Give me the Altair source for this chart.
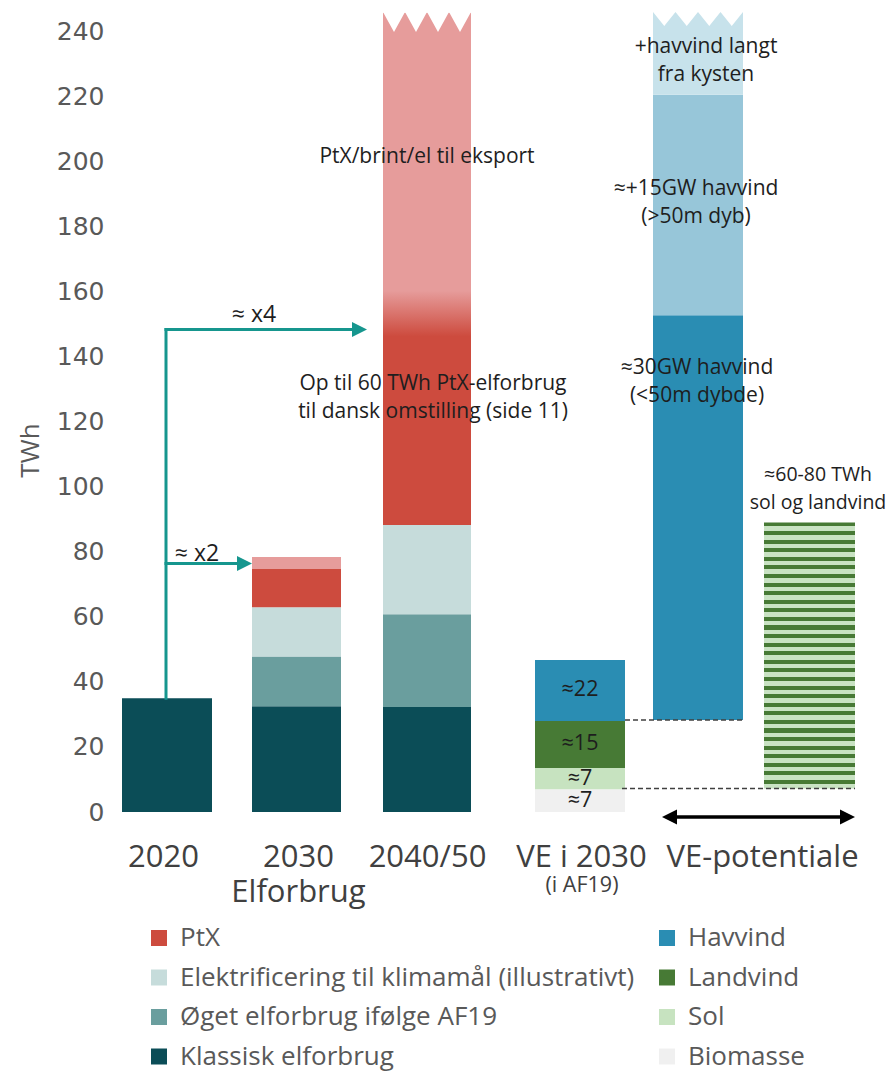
import altair as alt
import pandas as pd

# ---------------- data ----------------
use_columns = ["2020", "2030", "2040/50"]
klassisk = [35.0, 32.5, 32.3]
oget = [0.0, 15.3, 28.5]
elektrificering = [0.0, 15.1, 27.4]
ptx = [0.0, 11.8, 60.0]
ptx_eksport = [0.0, 3.7, 97.5]          # 2040/50 is cut at the top of the chart

ve2030_names = ["Biomasse", "Sol", "Landvind", "Havvind"]
ve2030_values = [7.0, 6.5, 14.5, 18.7]
ve2030_labels = ["≈7", "≈7", "≈15", "≈22"]

pot_havvind_start = 28.3
pot_havvind_names = ["Havvind", "Havvind dyb", "Havvind langt"]
pot_havvind_values = [124.4, 67.8, 25.5]
pot_havvind_labels = ["≈30GW havvind\n(<50m dybde)", "≈+15GW havvind\n(>50m dyb)",
                      "+havvind langt\nfra kysten"]

pot_solland_start = 7.2
pot_solland_value = 81.8
pot_solland_label = "≈60-80 TWh\nsol og landvind"

ptx_labels = ["Op til 60 TWh PtX-elforbrug\ntil dansk omstilling (side 11)",
              "PtX/brint/el til eksport"]

growth_labels = ["≈ x2", "≈ x4"]
growth_levels = [76.4, 148.3]

x_labels = [["2020"], ["2030", "Elforbrug"], ["2040/50"], ["VE i 2030"], ["VE-potentiale"]]
x_sublabel = "(i AF19)"
y_ticks = list(range(0, 241, 20))

K_NAME = "Klassisk elforbrug"
O_NAME = "Øget elforbrug ifølge AF19"
E_NAME = "Elektrificering til klimamål (illustrativt)"
# legend fills column by column
legend_order = ["PtX", E_NAME, O_NAME, K_NAME, "Havvind", "Landvind", "Sol", "Biomasse"]

colors = {
    "PtX": "#cd4b3e",
    "PtX eksport": "#e69c9b",
    E_NAME: "#c6dcdb",
    O_NAME: "#6a9e9e",
    K_NAME: "#0b4d57",
    "Havvind": "#2a8db3",
    "Havvind dyb": "#97c6d9",
    "Havvind langt": "#c7e2eb",
    "Landvind": "#477a35",
    "Sol": "#c7e3c0",
    "Biomasse": "#f0f0f0",
}
stripe_light = "#c9e3c3"
teal = "#16968e"
FONT = "Open Sans"

# ---------------- layout ----------------
W, H = 776, 800
Y_MAX = 245.9
PX = H / Y_MAX
span = {"2020": (14, 104), "2030": (144, 233), "2040/50": (275, 363),
        "VE i 2030": (427, 517), "pot_hav": (545, 635), "pot_sol": (656, 747)}
x_label_at = [55, 190, 319, 473, 654]
sublabel_at = (474, -22.8)
ptx_label_at = [(325, 131.5), (319, 201.3)]          # first-line positions
pot_havvind_label_at = [(589, 136.4), (588, 191.5), (598, 235.1)]
pot_solland_label_at = (710, 103.6)
growth_label_at = [(89, 79.4), (146, 152.7)]
arrow_x = 58
arrow_tips = [144, 259]
head = 15
double_arrow = (554, 747, -1.5)

# ---------------- tables ----------------
rows = []
for i, c in enumerate(use_columns):
    x0, x1 = span[c]
    base = 0.0
    for name, vals in [(K_NAME, klassisk), (O_NAME, oget), (E_NAME, elektrificering),
                       ("PtX", ptx), ("PtX eksport", ptx_eksport)]:
        v = vals[i]
        if v > 0 and not (c == "2040/50" and name in ("PtX", "PtX eksport")):
            rows.append({"x0": x0, "x1": x1, "y0": base, "y1": base + v, "seg": name})
        base += v
base = 0.0
ve_text = []
for name, v, lab in zip(ve2030_names, ve2030_values, ve2030_labels):
    x0, x1 = span["VE i 2030"]
    rows.append({"x0": x0, "x1": x1, "y0": base, "y1": base + v, "seg": name})
    ve_text.append({"t": lab, "x": (x0 + x1) / 2, "y": base + v / 2, "fs": 21.5})
    base += v
base = pot_havvind_start
for name, v in zip(pot_havvind_names, pot_havvind_values):
    x0, x1 = span["pot_hav"]
    rows.append({"x0": x0, "x1": x1, "y0": base, "y1": base + v, "seg": name})
    base += v
bars_df = pd.DataFrame(rows)

xs = alt.Scale(domain=[0, W], nice=False, zero=False)
ys = alt.Scale(domain=[0, Y_MAX], nice=False)

label_expr = ""
for pos, lab in zip(x_label_at, x_labels):
    js = "'" + lab[0] + "'" if len(lab) == 1 else "[" + ",".join("'" + s + "'" for s in lab) + "]"
    label_expr += f"datum.value == {pos} ? {js} : "
label_expr += "''"

x_axis = alt.Axis(values=x_label_at, labelExpr=label_expr, labelFont=FONT, labelFontSize=31,
                  labelColor="#404040", labelPadding=30, labelLineHeight=35, ticks=False,
                  tickSize=0, domain=False, grid=False, labelOverlap=False, labelFlush=False,
                  labelBound=False, title=None, labelAngle=0, labelBaseline="top", labelLimit=400)
y_axis = alt.Axis(values=y_ticks, labelFont="DejaVu Sans", labelFontSize=25, labelColor="#595959",
                  ticks=False, tickSize=0, domain=False, grid=False, labelPadding=4,
                  labelOverlap=False, title="TWh", titleFont=FONT, titleFontSize=26,
                  titleColor="#595959", titleFontWeight="normal", titleAngle=270,
                  titleX=-78, titleY=438, titleAlign="center", titleBaseline="middle")

legend = alt.Legend(values=legend_order, orient="none", legendX=38, legendY=913, columns=2,
                    columnPadding=19, rowPadding=13.5, symbolType="square", symbolSize=256,
                    symbolStrokeWidth=0, symbolOpacity=1, labelFont=FONT, labelFontSize=26,
                    labelColor="#595959", labelOffset=8, title=None, padding=0, labelLimit=700)

def X(f):
    return alt.X(f, scale=xs, axis=x_axis)

def Y(f):
    return alt.Y(f, scale=ys, axis=y_axis, stack=None)

seg_domain = list(colors.keys())
bars = alt.Chart(bars_df).mark_bar(opacity=1).encode(
    x=X("x0:Q"), x2="x1:Q", y=Y("y0:Q"), y2="y1:Q",
    color=alt.Color("seg:N", scale=alt.Scale(domain=seg_domain, range=[colors[s] for s in seg_domain]),
                    legend=legend),
)

# 2040/50 PtX with soft transition into export
g0 = klassisk[2] + oget[2] + elektrificering[2]
g_b = g0 + ptx[2]
g1 = g_b + ptx_eksport[2]
o1 = (g_b - 2 - g0) / (g1 - g0)
o2 = (g_b + 12 - g0) / (g1 - g0)
ptx_grad = alt.LinearGradient(gradient="linear", x1=0, x2=0, y1=1, y2=0, stops=[
    alt.GradientStop(offset=0, color=colors["PtX"]),
    alt.GradientStop(offset=o1, color=colors["PtX"]),
    alt.GradientStop(offset=o2, color=colors["PtX eksport"]),
    alt.GradientStop(offset=1, color=colors["PtX eksport"]),
])
ptx_df = pd.DataFrame([{"x0": span["2040/50"][0], "x1": span["2040/50"][1], "y0": g0, "y1": g1}])
ptx_bar = alt.Chart(ptx_df).mark_bar(color=ptx_grad).encode(
    x=X("x0:Q"), x2="x1:Q", y=Y("y0:Q"), y2="y1:Q")

# striped potential for sun and onshore wind
n_str = 31
stops = []
for k in range(n_str):
    a, m, b = k / n_str, (k + 0.47) / n_str, (k + 1) / n_str
    stops += [alt.GradientStop(offset=a, color=colors["Landvind"]),
              alt.GradientStop(offset=m, color=colors["Landvind"]),
              alt.GradientStop(offset=m, color=stripe_light),
              alt.GradientStop(offset=b, color=stripe_light)]
stripe_grad = alt.LinearGradient(gradient="linear", x1=0, x2=0, y1=0, y2=1, stops=stops)
sol_df = pd.DataFrame([{"x0": span["pot_sol"][0], "x1": span["pot_sol"][1],
                        "y0": pot_solland_start, "y1": pot_solland_start + pot_solland_value}])
sol_bar = alt.Chart(sol_df).mark_bar(color=stripe_grad).encode(
    x=X("x0:Q"), x2="x1:Q", y=Y("y0:Q"), y2="y1:Q")

# zigzag break at the top of the cut bars
def zigzag(key, x0, x1, teeth, depth_px):
    step = (x1 - x0) / (2 * teeth)
    return [{"bar": key, "x": x0 + k * step,
             "y": Y_MAX - (depth_px / PX if k % 2 else 0), "y2": Y_MAX + 3}
            for k in range(2 * teeth + 1)]
zz_df = pd.DataFrame(zigzag("a", *span["2040/50"], 4, 20) + zigzag("b", *span["pot_hav"], 4, 14))
zz = alt.Chart(zz_df).mark_area(color="white", opacity=1, interpolate="linear").encode(
    x=X("x:Q"), y=Y("y:Q"), y2="y2:Q", detail="bar:N")

# dashed guide lines
dash_df = pd.DataFrame([
    {"x0": span["VE i 2030"][1], "x1": span["pot_hav"][1], "y": pot_havvind_start},
    {"x0": span["VE i 2030"][1] - 3, "x1": span["pot_sol"][1], "y": pot_solland_start},
])
dashes = alt.Chart(dash_df).mark_rule(color="#404040", strokeWidth=1.5, strokeDash=[5, 3]).encode(
    x=X("x0:Q"), x2="x1:Q", y=Y("y:Q"))

# growth arrows
top_2020 = klassisk[0]
ar_lines = pd.DataFrame([
    {"x0": arrow_x, "x1": arrow_x, "y0": top_2020, "y1": growth_levels[1]},
    {"x0": arrow_x, "x1": arrow_tips[0] - head / 2, "y0": growth_levels[0], "y1": growth_levels[0]},
    {"x0": arrow_x, "x1": arrow_tips[1] - head / 2, "y0": growth_levels[1], "y1": growth_levels[1]},
])
ar = alt.Chart(ar_lines).mark_rule(color=teal, strokeWidth=3, strokeCap="square").encode(
    x=X("x0:Q"), x2="x1:Q", y=Y("y0:Q"), y2="y1:Q")
heads_df = pd.DataFrame([{"x": t - head / 2, "y": lv} for t, lv in zip(arrow_tips, growth_levels)])
ar_heads = alt.Chart(heads_df).mark_point(shape="M-1,-1L1,0L-1,1Z", filled=True, size=head * head,
                                           color=teal, opacity=1, strokeWidth=0).encode(
    x=X("x:Q"), y=Y("y:Q"))

# double arrow under the potential bars
da0, da1, day = double_arrow
da_line = alt.Chart(pd.DataFrame([{"x0": da0 + head / 2, "x1": da1 - head / 2, "y": day}])).mark_rule(
    color="black", strokeWidth=3.5).encode(x=X("x0:Q"), x2="x1:Q", y=Y("y:Q"))
da_r = alt.Chart(pd.DataFrame([{"x": da1 - head / 2, "y": day}])).mark_point(
    shape="M-1,-1L1,0L-1,1Z", filled=True, size=head * head, color="black", opacity=1,
    strokeWidth=0).encode(x=X("x:Q"), y=Y("y:Q"))
da_l = alt.Chart(pd.DataFrame([{"x": da0 + head / 2, "y": day}])).mark_point(
    shape="M1,-1L-1,0L1,1Z", filled=True, size=head * head, color="black", opacity=1,
    strokeWidth=0).encode(x=X("x:Q"), y=Y("y:Q"))

# texts
texts = list(ve_text)
for t, (x, y) in zip(ptx_labels, ptx_label_at):
    texts.append({"t": t, "x": x, "y": y, "fs": 21})
for t, (x, y) in zip(pot_havvind_labels, pot_havvind_label_at):
    texts.append({"t": t, "x": x, "y": y, "fs": 21})
texts.append({"t": pot_solland_label, "x": pot_solland_label_at[0], "y": pot_solland_label_at[1], "fs": 19.5})
for t, (x, y) in zip(growth_labels, growth_label_at):
    texts.append({"t": t, "x": x, "y": y, "fs": 23})
txt = alt.Chart(pd.DataFrame(texts)).mark_text(font=FONT, lineBreak="\n", lineHeight=28,
                                               color="#1e1e1e", align="center", baseline="middle").encode(
    x=X("x:Q"), y=Y("y:Q"), text="t:N", size=alt.Size("fs:Q", scale=None))
sub = alt.Chart(pd.DataFrame([{"t": x_sublabel, "x": sublabel_at[0], "y": sublabel_at[1]}])).mark_text(
    font=FONT, fontSize=21.5, color="#404040", align="center", baseline="middle").encode(
    x=X("x:Q"), y=Y("y:Q"), text="t:N")

chart = alt.layer(bars, ptx_bar, sol_bar, zz, dashes, ar, ar_heads, da_line, da_r, da_l, txt, sub).properties(
    width=W, height=H,
    autosize=alt.AutoSizeParams(type="none"),
    padding={"left": 100, "top": 4, "right": 2, "bottom": 261},
    background="white",
).configure_view(strokeWidth=0, stroke="transparent")

chart.save("out.html", embed_options={"renderer": "svg", "actions": False})
